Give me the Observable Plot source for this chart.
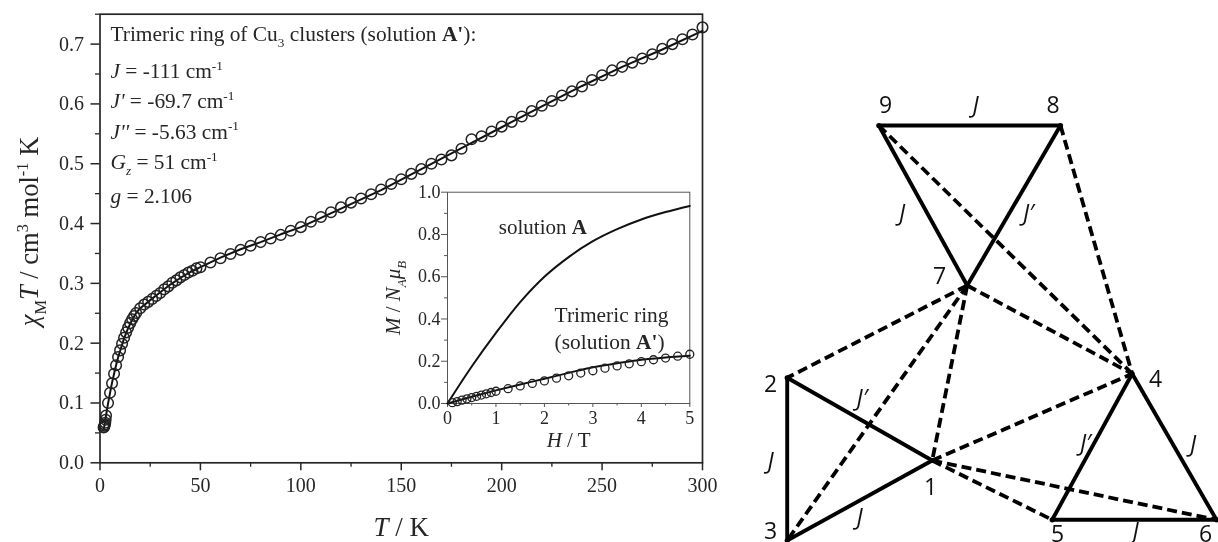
<!DOCTYPE html>
<html>
<head>
<meta charset="utf-8">
<script src="https://cdn.jsdelivr.net/npm/d3@7"></script>
<script src="https://cdn.jsdelivr.net/npm/@observablehq/plot@0.6"></script>
<style>
html,body{margin:0;padding:0;background:#fff}
#chart{position:relative;width:1218px;height:542px;overflow:hidden;filter:blur(0.3px)}
</style>
</head>
<body>
<div id="chart"></div>
<script>
// Main panel: measured chi_M*T vs T
const obsT = [1.8,2,2.2,2.4,2.6,2.8,3,4,5,6,7,8,9,10,11,12,13,14,15,16,17,18,20,22,24,26,28,30,32,34,36,38,40,42,44,46,48,50,55,60,65,70,75,80,85,90,95,100,105,110,115,120,125,130,135,140,145,150,155,160,165,170,175,180,185,190,195,200,205,210,215,220,225,230,235,240,245,250,255,260,265,270,275,280,285,290,295,300];
const obsChiT = [.059,.060,.062,.064,.067,.072,.079,.100,.117,.133,.149,.163,.177,.188,.199,.209,.218,.226,.2335,.240,.2455,.2505,.2585,.2645,.269,.274,.279,.284,.290,.295,.301,.305,.310,.314,.318,.321,.325,.327,.335,.342,.349,.356,.363,.369,.375,.381,.388,.394,.403,.411,.419,.427,.435,.442,.449,.457,.466,.474,.483,.491,.500,.507,.514,.525,.541,.546,.554,.562,.570,.579,.588,.597,.605,.614,.621,.629,.640,.648,.656,.662,.669,.676,.683,.692,.700,.708,.716,.728];
const fitT = [1.8,2.5,3,4,5,6,7,8,9,10,12,14,16,18,20,25,30,35,40,45,50,60,70,80,90,100,120,140,160,180,200,220,240,260,280,300];
const fitChiT = [.055,.068,.079,.099,.117,.134,.149,.163,.176,.187,.208,.225,.239,.2505,.2585,.272,.285,.298,.309,.319,.327,.343,.357,.369,.382,.394,.425,.456,.491,.526,.561,.596,.630,.662,.691,.722];
const mainXTicks = [0,50,100,150,200,250,300];
const mainXMinor = [25,75,125,175,225,275];
const mainYTicks = [0,.1,.2,.3,.4,.5,.6,.7];
const mainYMinor = [.05,.15,.25,.35,.45,.55,.65,.75];
const infoLines = ["Trimeric ring of Cu_{3} clusters (solution #A'#):","*J* = -111 cm^{-1}","*J'* = -69.7 cm^{-1}","*J''* = -5.63 cm^{-1}","*G*~{z} = 51 cm^{-1}","*g* = 2.106"];
const infoChiT = [.717,.654,.604,.553,.502,.445];

// Inset: magnetisation vs field
const obsH = [.1,.2,.3,.4,.5,.6,.7,.8,.9,1,1.25,1.5,1.75,2,2.25,2.5,2.75,3,3.25,3.5,3.75,4,4.25,4.5,4.75,5];
const obsM = [.004,.009,.016,.022,.028,.034,.040,.046,.052,.058,.070,.083,.095,.107,.120,.131,.144,.155,.167,.178,.188,.198,.207,.215,.224,.233];
const fitH = [0,.5,1,1.5,2,2.5,3,3.5,4,4.5,5];
const fitA = [0,.175,.334,.48,.6,.693,.768,.825,.871,.906,.935];
const fitRing = [0,.032,.062,.09,.117,.145,.172,.19,.207,.218,.226];
const insetXTicks = [0,1,2,3,4,5];
const insetXMinor = [.5,1.5,2.5,3.5,4.5];
const insetYTicks = [0,.2,.4,.6,.8,1];
const insetYMinor = [.1,.3,.5,.7,.9];

// Exchange diagram
const nodeIds = [1,2,3,4,5,6,7,8,9];
const nodeX = {1:931.7,2:786.7,3:786.7,4:1131.7,5:1051.7,6:1216,7:966.7,8:1060,9:878.3};
const nodeY = {1:460,2:377.3,3:540,4:373.3,5:519.3,6:519.3,7:285,8:125,9:125};
const solidEdges = [[9,8],[9,7],[8,7],[2,3],[2,1],[3,1],[4,5],[4,6],[5,6]];
const dashedEdges = [[9,4],[8,4],[7,4],[7,2],[7,3],[7,1],[1,4],[1,5],[1,6]];
const diagramLabels = ["9","8","7","2","1","3","4","5","6"];
const labelX = [885,1052.7,939,770,930,770,1155,1057,1205];
const labelY = [105,105,276,384,487,531,379,534,534];
const couplingLabels = ["J","J","J′","J","J′","J","J′","J","J"];
const couplingX = [975,901.7,1028,770,861.7,859,1085,1192.7,1135];
const couplingY = [105,213,213,461,398,517,443,444,531];

const ink = "#262626";
const serif = "'Liberation Serif','Times New Roman',serif";
const chart = document.getElementById("chart");

const main = Plot.plot({
  width: 720, height: 542,
  marginLeft: 99.5, marginRight: 18, marginTop: 13.7, marginBottom: 79.7,
  style: {position:"absolute",left:"0px",top:"0px",background:"transparent",fontFamily:serif,overflow:"visible",maxWidth:"none"},
  x: {domain:[0,300],axis:null},
  y: {domain:[0,.75],axis:null},
  marks: [
    Plot.frame({stroke:ink,strokeWidth:1.7}),
    Plot.axisX({ticks:mainXTicks,tickSize:8,tickPadding:7,fontSize:20,stroke:ink,strokeWidth:1.5,fill:ink,label:null,tickFormat:d3.format("d")}),
    Plot.axisX({ticks:mainXMinor,tickSize:4.5,stroke:ink,strokeWidth:1.3,fill:"none",label:null}),
    Plot.axisY({ticks:mainYTicks,tickSize:9,tickPadding:7,fontSize:20,stroke:ink,strokeWidth:1.5,fill:ink,label:null,tickFormat:d3.format(".1f")}),
    Plot.axisY({ticks:mainYMinor,tickSize:4.5,stroke:ink,strokeWidth:1.3,fill:"none",label:null}),
    Plot.line(fitT,{x:fitT,y:fitChiT,stroke:"#111",strokeWidth:2}),
    Plot.dot(obsT,{x:obsT,y:obsChiT,r:5.3,stroke:"#222",strokeWidth:1.5,fill:"none"}),
    Plot.text(infoLines,{x:()=>5.2,y:(d,i)=>infoChiT[i],text:d=>d,textAnchor:"start",fontSize:21.4,fill:ink}),
    Plot.text(["*T* / K"],{frameAnchor:"bottom",dy:73,fontSize:27,fill:ink}),
    Plot.text(["*χ*_{M}*T* / cm^{3} mol^{-1} K"],{frameAnchor:"left",textAnchor:"middle",dx:-70,dy:-7,rotate:-90,fontSize:26.5,fill:ink})
  ]
});

const diagram = Plot.plot({
  width: 1218, height: 542, margin: 0,
  style: {position:"absolute",left:"0px",top:"0px",background:"transparent",fontFamily:"'Open Sans',sans-serif",maxWidth:"none"},
  x: {domain:[0,1218],range:[0,1218],axis:null},
  y: {domain:[0,542],range:[0,542],axis:null},
  marks: [
    Plot.link(dashedEdges,{x1:e=>nodeX[e[0]],y1:e=>nodeY[e[0]],x2:e=>nodeX[e[1]],y2:e=>nodeY[e[1]],stroke:"#000",strokeWidth:3.8,strokeDasharray:"10,5"}),
    Plot.link(solidEdges,{x1:e=>nodeX[e[0]],y1:e=>nodeY[e[0]],x2:e=>nodeX[e[1]],y2:e=>nodeY[e[1]],stroke:"#000",strokeWidth:3.9}),
    Plot.dot(nodeIds,{x:n=>nodeX[n],y:n=>nodeY[n],r:2.6,fill:"#000"}),
    Plot.text(diagramLabels,{x:(d,i)=>labelX[i],y:(d,i)=>labelY[i],text:d=>d,fontSize:23,fill:"#111"}),
    Plot.text(couplingLabels,{x:(d,i)=>couplingX[i],y:(d,i)=>couplingY[i],text:d=>d,fontSize:23,fontStyle:"italic",fill:"#111"})
  ]
});

const inset = Plot.plot({
  width: 340, height: 290,
  marginLeft: 77, marginRight: 20.7, marginTop: 21.7, marginBottom: 57,
  style: {position:"absolute",left:"370px",top:"170px",background:"transparent",fontFamily:serif,overflow:"visible",maxWidth:"none"},
  x: {domain:[0,5],axis:null},
  y: {domain:[0,1],axis:null},
  marks: [
    Plot.frame({stroke:"#555",strokeWidth:1}),
    Plot.axisX({ticks:insetXTicks,tickSize:4,tickPadding:4,fontSize:18,stroke:"#555",fill:ink,label:null,tickFormat:d3.format("d")}),
    Plot.axisX({ticks:insetXMinor,tickSize:2.5,stroke:"#555",fill:"none",label:null}),
    Plot.axisY({ticks:insetYTicks,tickSize:6,tickPadding:1,fontSize:18,stroke:"#555",fill:ink,label:null,tickFormat:d3.format(".1f")}),
    Plot.axisY({ticks:insetYMinor,tickSize:3,stroke:"#555",fill:"none",label:null}),
    Plot.line(fitH,{x:fitH,y:fitA,stroke:"#111",strokeWidth:2,curve:"catmull-rom"}),
    Plot.line(fitH,{x:fitH,y:fitRing,stroke:"#111",strokeWidth:2,curve:"catmull-rom"}),
    Plot.dot(obsH,{x:obsH,y:obsM,r:4,stroke:"#222",strokeWidth:1.3,fill:"none"}),
    Plot.text(["solution #A#"],{x:()=>1.06,y:()=>.836,textAnchor:"start",fontSize:21,fill:ink}),
    Plot.text(["Trimeric ring"],{x:()=>2.21,y:()=>.42,textAnchor:"start",fontSize:21.4,fill:ink}),
    Plot.text(["(solution #A'#)"],{x:()=>2.21,y:()=>.29,textAnchor:"start",fontSize:21.4,fill:ink}),
    Plot.text(["*H* / T"],{frameAnchor:"bottom",dy:43,fontSize:21,fill:ink}),
    Plot.text(["*M* / *N*~{A}*μ*~{B}"],{frameAnchor:"left",textAnchor:"middle",dx:-54,rotate:-90,fontSize:21,fill:ink})
  ]
});

chart.append(diagram, main, inset);

// Expand the small markup in text marks into italic, bold, sub and sup spans
function rich(svg){
  const re = /\*([^*]+)\*|#([^#]+)#|_\{([^}]+)\}|~\{([^}]+)\}|\^\{([^}]+)\}|([^*#_~^]+)/g;
  svg.querySelectorAll("text").forEach(t=>{
    const src = t.textContent;
    if(!/[*#]|[_~^]\{/.test(src)) return;
    const base = parseFloat(getComputedStyle(t).fontSize);
    t.textContent = "";
    let offset = 0, m;
    re.lastIndex = 0;
    while((m = re.exec(src))){
      const s = document.createElementNS("http://www.w3.org/2000/svg","tspan");
      let shift = 0;
      if(m[1]){s.textContent=m[1];s.setAttribute("font-style","italic");}
      else if(m[2]){s.textContent=m[2];s.setAttribute("font-weight","bold");}
      else if(m[3]||m[4]){s.textContent=m[3]||m[4];shift=.28*base;s.setAttribute("font-size",.62*base);if(m[4])s.setAttribute("font-style","italic");}
      else if(m[5]){s.textContent=m[5];shift=-.4*base;s.setAttribute("font-size",.62*base);}
      else s.textContent=m[6];
      if(shift!==offset) s.setAttribute("dy",shift-offset);
      offset=shift;
      t.appendChild(s);
    }
  });
}
[main,inset].forEach(rich);
</script>
</body>
</html>
